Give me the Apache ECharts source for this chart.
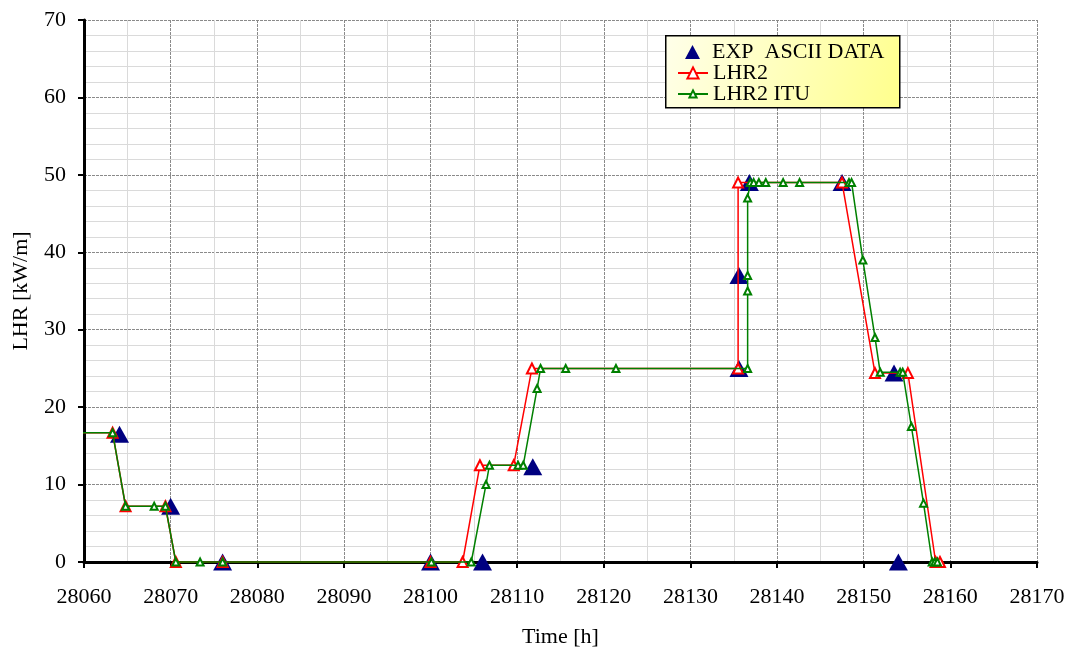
<!DOCTYPE html>
<html>
<head>
<meta charset="utf-8">
<script src="https://cdn.jsdelivr.net/npm/echarts@6/dist/echarts.min.js"></script>
<style>
html,body{margin:0;padding:0;background:#fff;}
#chart{width:1070px;height:655px;}
</style>
</head>
<body>
<div id="chart"></div>
<script>
// ---- data ----
const expX = [28064.1, 28070.0, 28076.0, 28100.0, 28106.0, 28111.8, 28135.6, 28135.6, 28136.8, 28147.5, 28153.5, 28154.0];
const expY = [16.5, 7.2, 0, 0, 0, 12.3, 25.0, 37.0, 49.0, 49.0, 24.4, 0];

const lhr2X = [28059.0, 28063.3, 28064.8, 28069.4, 28070.6, 28076.0, 28100.0, 28103.7, 28105.7, 28109.6, 28111.7, 28135.5, 28135.5, 28147.5, 28151.3, 28155.1, 28158.3, 28158.8];
const lhr2Y = [16.7, 16.7, 7.2, 7.2, 0, 0, 0, 0, 12.5, 12.5, 25.0, 25.0, 49.0, 49.0, 24.4, 24.4, 0, 0];

const ituX = [28059.0, 28063.3, 28064.8, 28068.1, 28069.4, 28070.6, 28073.4, 28076.0, 28100.1, 28104.7, 28106.4, 28106.8, 28110.1, 28110.7, 28112.3, 28112.7, 28115.6, 28121.4, 28136.6, 28136.6, 28136.6, 28136.6, 28136.9, 28137.3, 28137.9, 28138.7, 28140.7, 28142.6, 28148.3, 28148.6, 28149.9, 28151.3, 28151.9, 28154.2, 28154.5, 28155.5, 28156.9, 28157.9, 28158.2, 28158.5];
const ituY = [16.7, 16.7, 7.2, 7.2, 7.2, 0, 0, 0, 0, 0, 10.0, 12.5, 12.5, 12.5, 22.4, 25.0, 25.0, 25.0, 25.0, 35.0, 37.0, 47.0, 49.0, 49.0, 49.0, 49.0, 49.0, 49.0, 49.0, 49.0, 39.0, 29.0, 24.5, 24.5, 24.5, 17.5, 7.6, 0, 0, 0];

const xTicks = {min: 28060, max: 28170, step: 10};
const yTicks = {min: 0, max: 70, step: 10};
const seriesNames = ['EXP  ASCII DATA', 'LHR2', 'LHR2 ITU'];

function pairs(xs, ys) { return xs.map((x, i) => [x, ys[i]]); }

const FONT = '"Liberation Serif", "Times New Roman", serif';
const chart = echarts.init(document.getElementById('chart'), null, {renderer: 'canvas'});

const legendText = {fontFamily: FONT, fontSize: 22, color: '#000', lineHeight: 22};

const option = {
  animation: false,
  backgroundColor: '#ffffff',
  grid: {left: 84, top: 20, right: 33, bottom: 93, containLabel: false},
  graphic: [{
    type: 'rect',
    left: 665, top: 35, z: 5,
    shape: {width: 234, height: 72},
    style: {
      fill: new echarts.graphic.LinearGradient(0, 0, 1, 1, [
        {offset: 0, color: '#ffffea'},
        {offset: 1, color: '#ffff8c'}
      ]),
      stroke: '#000', lineWidth: 1.5
    }
  }],
  legend: [
    {
      orient: 'vertical', left: 685, top: 41, z: 10, padding: 0,
      icon: 'triangle', itemWidth: 15, itemHeight: 14,
      textStyle: Object.assign({padding: [0, 0, 0, 7]}, legendText),
      data: [seriesNames[0]]
    },
    {
      orient: 'vertical', left: 677, top: 62, z: 10, padding: 0,
      itemWidth: 30, itemHeight: 14,
      textStyle: legendText,
      data: [seriesNames[1]]
    },
    {
      orient: 'vertical', left: 677, top: 83, z: 10, padding: 0,
      itemWidth: 30, itemHeight: 9,
      textStyle: legendText,
      data: [seriesNames[2]]
    }
  ],
  xAxis: {
    type: 'value',
    min: xTicks.min, max: xTicks.max, interval: xTicks.step,
    name: 'Time [h]', nameLocation: 'middle', nameGap: 64,
    nameTextStyle: {fontFamily: FONT, fontSize: 22, color: '#000'},
    axisLine: {show: true, onZero: false, lineStyle: {color: '#000', width: 3}},
    axisTick: {show: true, length: 6, lineStyle: {color: '#000', width: 2}},
    axisLabel: {fontFamily: FONT, fontSize: 22, color: '#000', margin: 24, formatter: v => String(v)},
    splitLine: {show: true, lineStyle: {color: '#8a8a8a', width: 1, type: [3, 1]}},
    minorTick: {show: false, splitNumber: 2},
    minorSplitLine: {show: true, lineStyle: {color: '#dadada', width: 1}}
  },
  yAxis: {
    type: 'value',
    min: yTicks.min, max: yTicks.max, interval: yTicks.step,
    name: 'LHR [kW/m]', nameLocation: 'middle', nameGap: 52,
    nameTextStyle: {fontFamily: FONT, fontSize: 22, color: '#000'},
    axisLine: {show: true, onZero: false, lineStyle: {color: '#000', width: 3}},
    axisTick: {show: true, length: 6, lineStyle: {color: '#000', width: 2}},
    axisLabel: {fontFamily: FONT, fontSize: 22, color: '#000', margin: 18},
    splitLine: {show: true, lineStyle: {color: '#8a8a8a', width: 1, type: [3, 1]}},
    minorTick: {show: false, splitNumber: 5},
    minorSplitLine: {show: true, lineStyle: {color: '#dadada', width: 1}}
  },
  series: [
    {
      name: seriesNames[0], type: 'scatter',
      symbol: 'triangle', symbolSize: [19, 17],
      itemStyle: {color: '#000080', opacity: 1},
      data: pairs(expX, expY), z: 2
    },
    {
      name: seriesNames[1], type: 'line',
      symbol: 'emptyTriangle', symbolSize: 10, showAllSymbol: true,
      lineStyle: {color: '#ff0000', width: 1.5},
      itemStyle: {color: '#ff0000', borderWidth: 1.5},
      clip: false,
      data: pairs(lhr2X, lhr2Y).map((p, i) => i === 0 ? {value: p, symbol: 'none'} : p), z: 3
    },
    {
      name: seriesNames[2], type: 'line',
      symbol: 'emptyTriangle', symbolSize: 7, showAllSymbol: true,
      lineStyle: {color: '#008000', width: 1.5},
      itemStyle: {color: '#008000', borderWidth: 1.3},
      clip: false,
      data: pairs(ituX, ituY).map((p, i) => i === 0 ? {value: p, symbol: 'none'} : p), z: 4
    }
  ]
};
chart.setOption(option);
</script>
</body>
</html>
